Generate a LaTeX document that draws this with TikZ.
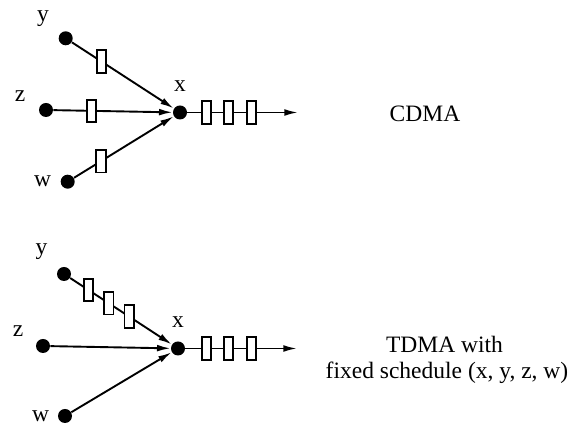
\documentclass[tikz,border=0pt]{standalone}
\usepackage{fontspec}
\setmainfont{Liberation Serif}
\usetikzlibrary{arrows.meta}

\begin{document}
\begin{tikzpicture}[x=0.5pt,y=0.5pt]
            \tikzstyle{every node}+=[inner sep=0pt, font=\fontsize{11.75}{13}\selectfont]
            \tikzstyle{host}=[circle, fill=black, minimum size=7pt]
            \tikzstyle{pkt}=[draw=black, fill=white, line width=0.9pt, minimum width=4.7pt, minimum height=11.2pt]
            \tikzstyle{wire}=[black, line width=0.95pt]
            \tikzstyle{link}=[wire, -{Latex[length=6.8pt,width=3.4pt]}]
            \useasboundingbox (0,0) rectangle (574,-426);
            % CDMA
            \node [host] (y1) at (65.7,-38.3) {};
            \node [host] (z1) at (46,-110) {};
            \node [host] (w1) at (67.7,-181.7) {};
            \node [host] (x1) at (180,-112.5) {};
            \node [anchor=base] (ly1) at (43,-21.5) {y};
            \node [anchor=base] (lz1) at (20,-102) {z};
            \node [anchor=base] (lw1) at (42.5,-187) {w};
            \node [anchor=base] (lx1) at (180,-92) {x};
            \draw [link] (y1) -- node [pkt, pos=0.29] {} (x1);
            \draw [link] (z1) -- node [pkt, pos=0.32] {} (x1);
            \draw [link] (w1) -- node [pkt, pos=0.27] {} (x1);
            \node [pkt] (qa1) at (206.5,-112.5) {};
            \node [pkt] (qb1) at (228.5,-112.5) {};
            \node [pkt] (qc1) at (251.5,-112.5) {};
            \coordinate (out1) at (298,-112.5);
            \draw [wire] (x1) -- (qa1) -- (qb1) -- (qc1);
            \draw [link] (qc1) -- (out1);
            \node [anchor=base] (cdma) at (425,-122) {CDMA};
            % TDMA
            \node [host] (y2) at (64,-274) {};
            \node [host] (z2) at (43,-346) {};
            \node [host] (w2) at (65,-416) {};
            \node [host] (x2) at (178,-348.5) {};
            \node [anchor=base] (ly2) at (41.5,-255) {y};
            \node [anchor=base] (lz2) at (18,-337) {z};
            \node [anchor=base] (lw2) at (40.5,-422) {w};
            \node [anchor=base] (lx2) at (178,-328) {x};
            \draw [link] (y2) -- node [pkt, pos=0.18] {} node [pkt, pos=0.38] {} node [pkt, pos=0.58] {} (x2);
            \draw [link] (z2) -- (x2);
            \draw [link] (w2) -- (x2);
            \node [pkt] (qa2) at (206.5,-348.5) {};
            \node [pkt] (qb2) at (228.5,-348.5) {};
            \node [pkt] (qc2) at (251.5,-348.5) {};
            \coordinate (out2) at (297,-348.5);
            \draw [wire] (x2) -- (qa2) -- (qb2) -- (qc2);
            \draw [link] (qc2) -- (out2);
            \node [anchor=base] (tdma) at (444.5,-353) {TDMA with};
            \node [anchor=base] (sched) at (447,-379) {fixed schedule (x, y, z, w)};
        \end{tikzpicture}
\end{document}
